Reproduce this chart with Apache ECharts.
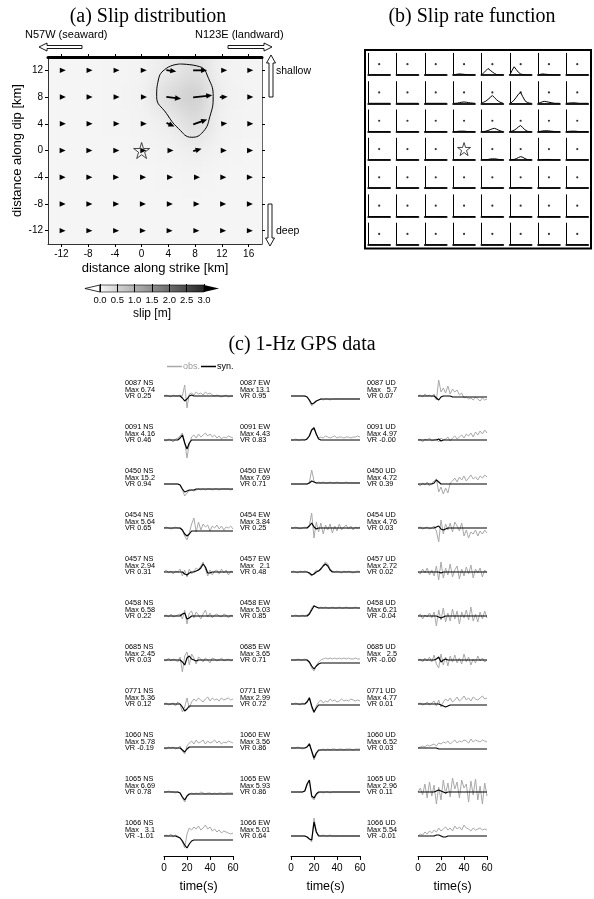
<!DOCTYPE html>
<html><head><meta charset="utf-8">
<script src="https://cdn.jsdelivr.net/npm/echarts@6/dist/echarts.min.js"></script>
<style>
html,body{margin:0;padding:0;background:#fff;}
#wrap{position:relative;width:594px;height:899px;overflow:hidden;}
#slipClip{position:absolute;left:48px;top:57px;width:214px;height:187px;overflow:hidden;}
#slipField{position:absolute;left:-20px;top:-20px;width:254px;height:227px;filter:blur(10px);}
#main{position:absolute;left:0;top:0;width:594px;height:899px;}
</style></head><body>
<div id="wrap"><div id="slipClip"><div id="slipField"></div></div><div id="main"></div></div>
<script>
// ---------------- (a) slip distribution ----------------
const strikeKm = [-12, -8, -4, 0, 4, 8, 12, 16];
const dipKm = [12, 8, 4, 0, -4, -8, -12];
const slipM = [
  [0.02, 0.02, 0.03, 0.05, 0.18, 0.36, 0.06, 0.03],
  [0.02, 0.02, 0.03, 0.06, 0.40, 0.60, 0.08, 0.03],
  [0.02, 0.02, 0.03, 0.05, 0.12, 0.40, 0.06, 0.03],
  [0.01, 0.01, 0.02, 0.03, 0.05, 0.12, 0.04, 0.02],
  [0.01, 0.01, 0.01, 0.02, 0.03, 0.04, 0.02, 0.01],
  [0.01, 0.01, 0.01, 0.01, 0.02, 0.02, 0.01, 0.01],
  [0.01, 0.01, 0.01, 0.01, 0.01, 0.01, 0.01, 0.01]
];
const rakeDeg = [
  [0, 0, 0, 0, -8, 0, 0, 0],
  [0, 0, 0, 0, -8, 6, 2, 0],
  [0, 0, 0, 0, -25, 20, 5, 0],
  [0, 0, 0, 0, 0, 15, 0, 0],
  [0, 0, 0, 0, 0, 0, 0, 0],
  [0, 0, 0, 0, 0, 0, 0, 0],
  [0, 0, 0, 0, 0, 0, 0, 0]
];
const contourStrike = [5.7, 8.7, 10.0, 10.7, 10.2, 9.2, 7.5, 5.5, 3.7, 2.25, 2.5, 3.7, 5.7];
const contourDip    = [12.95, 12.55, 10.8, 8.06, 5.06, 2.82, 1.98, 3.3, 5.57, 8.06, 10.56, 12.3, 12.95];
const hypocenter = [0, 0];
const strikeTicks = [-12, -8, -4, 0, 4, 8, 12, 16];
const dipTicks = [-12, -8, -4, 0, 4, 8, 12];
const colorbarTicks = [0, 0.5, 1, 1.5, 2, 2.5, 3];

// ---------------- (b) slip rate functions ----------------
const rateTime = [0, 2, 4, 6, 8, 10, 12, 14, 16, 18, 20];
const Z = [0, 0, 0, 0, 0, 0, 0, 0, 0, 0, 0];
const rateRows = [
  [Z, Z, Z, [0,0.02,0.04,0.05,0.04,0.03,0.02,0.01,0,0,0], [0,0.1,0.2,0.3,0.22,0.14,0.07,0.02,0,0,0], [0,0.2,0.38,0.25,0.12,0.05,0.02,0,0,0,0], [0,0.03,0.05,0.04,0.03,0.02,0.01,0,0,0,0], Z],
  [Z, Z, Z, [0,0,0.01,0.03,0.05,0.06,0.05,0.03,0.02,0.01,0], [0,0.05,0.1,0.18,0.27,0.36,0.26,0.16,0.08,0.03,0], [0,0.05,0.15,0.28,0.42,0.5,0.3,0.12,0.04,0.01,0], [0,0.03,0.07,0.09,0.07,0.05,0.03,0.01,0,0,0], [0,0.01,0.02,0.02,0.02,0.01,0,0,0,0,0]],
  [Z, Z, Z, [0,0,0.01,0.02,0.02,0.02,0.01,0,0,0,0], [0,0,0.02,0.05,0.09,0.13,0.15,0.11,0.06,0.02,0], [0,0.02,0.06,0.13,0.22,0.28,0.18,0.08,0.02,0,0], [0,0.01,0.03,0.04,0.04,0.03,0.02,0.01,0,0,0], [0,0.01,0.02,0.02,0.02,0.01,0,0,0,0,0]],
  [Z, Z, Z, Z, [0,0,0.01,0.02,0.04,0.05,0.05,0.04,0.02,0.01,0], [0,0,0.02,0.06,0.11,0.15,0.12,0.06,0.02,0,0], [0,0,0.01,0.02,0.02,0.02,0.01,0,0,0,0], Z],
  [Z, Z, Z, Z, Z, [0,0,0.01,0.02,0.03,0.03,0.02,0.01,0,0,0], Z, Z],
  [Z, Z, Z, Z, Z, Z, Z, Z],
  [Z, Z, Z, Z, Z, Z, Z, Z]
];
const hypoCell = [3, 3];

// ---------------- (c) 1-Hz GPS waveforms ----------------
const timeSec = [0,2,4,6,8,10,12,14,16,18,20,22,24,26,28,30,32,34,36,38,40,42,44,46,48,50,52,54,56,58,60];
const timeTicks = [0, 20, 40, 60];
const stationIds = ['0087','0091','0450','0454','0457','0458','0685','0771','1060','1065','1066'];
const compNames = ['NS', 'EW', 'UD'];
const maxNS = ['6.74','4.16','15.2','5.64','2.94','6.58','2.45','5.36','5.78','6.69','3.1'];
const maxEW = ['13.1','4.43','7.69','3.84','2.1','5.03','3.65','2.99','3.56','5.93','5.01'];
const maxUD = ['5.7','4.97','4.72','4.76','2.72','6.21','2.5','4.77','6.52','2.96','5.54'];
const vrNS = ['0.25','0.46','0.94','0.65','0.31','0.22','0.03','0.12','-0.19','0.78','-1.01'];
const vrEW = ['0.95','0.83','0.71','0.25','0.48','0.85','0.71','0.72','0.86','0.86','0.64'];
const vrUD = ['0.07','-0.00','0.39','0.03','0.02','-0.04','-0.00','0.01','0.03','0.11','-0.01'];

const obsNS = [
  [0,1,0,-1,1,0,0,1,0,11,-12,2,3,1,4,2,3,1,4,2,3,1,0,1,0,-1,0,1,-1,0,0],
  [0,-1,1,0,-2,1,2,4,7,-2,-18,-4,3,5,2,6,3,5,7,4,6,3,5,2,4,1,3,2,4,3,2],
  [0,0,0,0,0,0,0,-1,-6,-12,-9,-7,-6,-7,-6,-5,-6,-5,-6,-5,-5,-6,-5,-5,-6,-5,-5,-5,-5,-6,-5],
  [0,1,0,-1,0,1,0,0,-3,-8,-12,-5,4,10,-4,6,-2,4,1,3,-3,2,0,3,-1,2,-2,1,0,2,-1],
  [0,2,-1,1,-2,1,0,3,-4,2,-5,3,-2,1,4,2,6,10,3,-4,2,-3,1,2,-2,3,-1,2,-3,1,0],
  [0,1,-1,2,-1,0,1,2,-3,6,-8,3,5,-2,4,1,-3,2,6,-1,3,-2,1,2,0,-1,2,1,-2,1,0],
  [0,-1,2,-1,1,0,-2,3,-12,4,8,-5,6,2,-4,3,1,-2,2,0,-3,2,1,-1,0,2,-1,0,1,-1,0],
  [0,1,-1,0,1,-2,2,0,-8,-3,6,-4,2,5,3,6,4,2,5,7,3,6,4,5,3,6,4,5,6,4,5],
  [0,-1,1,0,1,-1,0,2,-3,-6,2,5,7,4,8,5,6,8,4,7,5,6,8,5,7,4,6,5,7,6,5],
  [0,0,1,0,0,-1,0,-1,-6,-10,-4,-2,-1,-2,-1,-2,0,-1,-2,-1,-1,-2,-1,-2,-1,-1,-2,-1,-1,-1,-1],
  [0,1,0,2,-1,1,0,-2,-6,-12,2,8,6,9,7,10,6,8,11,7,9,5,7,4,6,3,5,4,3,2,3]
];
const synNS = [
  [0,0,0,0,0,0,0,0,-2,-5,-3,0,1,0,0,0,0,0,0,0,0,0,0,0,0,0,0,0,0,0,0],
  [0,0,0,0,0,0,0,2,5,-3,-9,-3,0,0,0,0,0,0,0,0,0,0,0,0,0,0,0,0,0,0,0],
  [0,0,0,0,0,0,0,-1,-5,-8,-7,-6,-6,-6,-5,-5,-5,-5,-5,-5,-5,-5,-5,-5,-5,-5,-5,-5,-5,-5,-5],
  [0,0,0,0,0,0,0,0,-2,-6,-8,-6,-3,-3,-3,-3,-3,-3,-3,-3,-3,-3,-3,-3,-3,-3,-3,-3,-3,-3,-3],
  [0,0,0,0,0,0,0,0,0,-2,-3,-1,0,0,1,2,4,8,5,-1,-1,0,0,0,0,0,0,0,0,0,0],
  [0,0,0,0,0,0,0,0,2,3,-3,-2,0,0,0,0,0,0,0,0,0,0,0,0,0,0,0,0,0,0,0],
  [0,0,0,0,0,0,0,0,-2,-5,2,4,1,0,-1,0,0,0,0,0,0,0,0,0,0,0,0,0,0,0,0],
  [0,0,0,0,0,0,0,0,-3,-7,-5,-2,-2,-2,-2,-2,-2,-2,-2,-2,-2,-2,-2,-2,-2,-2,-2,-2,-2,-2,-2],
  [0,0,0,0,0,0,0,0,-2,-4,-1,1,1,1,1,1,1,1,1,1,1,1,1,1,1,1,1,1,1,1,1],
  [0,0,0,0,0,0,0,-1,-5,-8,-4,-2,-2,-2,-2,-2,-2,-2,-2,-2,-2,-2,-2,-2,-2,-2,-2,-2,-2,-2,-2],
  [0,0,0,0,0,0,-1,-2,-5,-9,-12,-8,-5,-4,-4,-4,-4,-4,-4,-4,-4,-4,-4,-4,-4,-4,-4,-4,-4,-4,-4]
];
const obsEW = [
  [0,0,0,0,0,0,0,-1,-5,-10,-7,-5,-4,-3,-4,-3,-3,-4,-3,-3,-3,-3,-3,-3,-3,-3,-3,-3,-3,-3,-3],
  [0,0,1,0,0,1,0,2,5,11,13,5,2,3,2,4,3,2,3,4,2,3,3,2,3,3,2,3,3,4,3],
  [0,0,0,0,0,0,0,0,2,14,3,1,2,1,2,1,1,2,1,1,2,1,1,1,2,1,1,1,1,1,1],
  [0,0,1,0,-1,0,1,0,3,15,-10,6,-4,5,-6,3,-2,4,-5,2,-3,4,-2,1,3,-1,2,-2,1,0,1],
  [0,1,0,-1,1,0,1,0,-2,-4,-1,2,1,4,7,10,8,3,1,0,1,0,-1,1,0,1,0,-1,0,1,0],
  [0,0,1,0,0,1,0,1,3,8,11,9,8,9,8,9,8,8,9,8,8,9,8,8,9,8,8,8,9,8,8],
  [0,0,0,1,0,0,1,0,-3,-8,-11,-6,-2,0,1,2,1,2,1,2,1,2,1,2,1,2,1,1,2,1,1],
  [0,0,1,0,-1,1,0,3,7,-4,-9,-2,2,4,1,3,2,5,3,4,2,3,5,3,4,3,5,4,3,4,3],
  [0,0,0,1,0,-1,0,2,5,-4,-12,-6,-3,-2,-1,-2,-1,-2,-1,-1,-2,-1,-1,-2,-1,-1,-1,-2,-1,-1,-1],
  [0,0,0,0,0,0,1,7,11,-6,-8,-3,-1,0,-1,0,0,-1,0,0,0,0,0,0,0,0,0,0,0,0,0],
  [0,0,0,0,0,0,0,-1,-3,-6,18,5,1,0,1,0,0,1,0,0,0,0,0,0,0,0,0,0,0,0,0]
];
const synEW = [
  [0,0,0,0,0,0,0,-1,-4,-8,-7,-5,-4,-3,-3,-3,-3,-3,-3,-3,-3,-3,-3,-3,-3,-3,-3,-3,-3,-3,-3],
  [0,0,0,0,0,0,0,1,4,10,12,6,1,0,0,0,0,0,0,0,0,0,0,0,0,0,0,0,0,0,0],
  [0,0,0,0,0,0,0,0,1,3,2,1,1,1,1,1,1,1,1,1,1,1,1,1,1,1,1,1,1,1,1],
  [0,0,0,0,0,0,0,0,2,5,1,-1,0,0,0,0,0,0,0,0,0,0,0,0,0,0,0,0,0,0,0],
  [0,0,0,0,0,0,0,0,-1,-3,-2,0,1,3,6,8,6,2,0,0,0,0,0,0,0,0,0,0,0,0,0],
  [0,0,0,0,0,0,0,0,2,6,10,9,8,8,8,8,8,8,8,8,8,8,8,8,8,8,8,8,8,8,8],
  [0,0,0,0,0,0,0,0,-2,-6,-9,-6,-4,-3,-3,-3,-3,-3,-3,-3,-3,-3,-3,-3,-3,-3,-3,-3,-3,-3,-3],
  [0,0,0,0,0,0,0,2,6,-2,-8,-4,-1,-1,-1,-1,-1,-1,-1,-1,-1,-1,-1,-1,-1,-1,-1,-1,-1,-1,-1],
  [0,0,0,0,0,0,0,1,4,-3,-10,-5,-2,-2,-2,-2,-2,-2,-2,-2,-2,-2,-2,-2,-2,-2,-2,-2,-2,-2,-2],
  [0,0,0,0,0,0,1,8,12,-4,-6,-2,0,0,0,0,0,0,0,0,0,0,0,0,0,0,0,0,0,0,0],
  [0,0,0,0,0,0,0,-1,-3,-4,14,4,0,0,0,0,0,0,0,0,0,0,0,0,0,0,0,0,0,0,0]
];
const obsUD = [
  [0,1,-1,2,0,1,-1,2,-4,16,4,8,3,10,2,7,4,6,1,3,-2,-1,-3,-2,-4,-1,-3,-5,-2,-4,-3],
  [0,1,-2,1,0,2,-1,0,1,-2,2,0,1,3,-1,2,4,1,3,5,2,6,4,7,3,8,5,9,6,10,7],
  [0,-2,1,-1,2,-2,1,3,5,-8,-3,-10,-4,-9,1,3,6,2,7,4,8,3,6,9,5,7,4,8,6,9,7],
  [0,1,-1,0,1,-1,0,2,-3,-14,8,-6,4,-2,5,-4,6,2,-3,5,-8,-2,-10,-4,-6,-2,-8,-3,-6,-2,-5],
  [0,-2,3,-1,4,-3,2,-4,6,-8,10,-6,4,-3,8,-5,2,6,-7,3,-4,5,-2,7,-6,3,-1,4,-5,2,-1],
  [0,2,-3,1,-1,3,-2,4,-10,6,-4,8,-6,3,-5,7,-3,5,-8,4,-2,6,-4,9,-5,2,-6,4,-3,5,-2],
  [0,1,-2,2,-1,3,-2,5,-4,-8,6,-5,3,-6,4,-2,5,-3,2,-4,6,-2,3,-5,1,-3,4,-1,2,-2,0],
  [0,1,-1,0,2,-1,1,3,-2,4,-3,2,5,3,6,2,4,7,3,5,8,4,6,3,7,5,4,6,8,5,6],
  [0,1,2,1,3,2,3,4,2,5,4,6,5,7,4,6,8,5,7,6,8,7,5,9,6,8,7,6,8,7,6],
  [0,4,-3,8,-6,10,-4,7,-12,5,-8,12,-2,9,-5,14,3,10,-6,12,4,8,-10,11,-3,13,-8,6,-12,9,-4],
  [0,2,1,4,2,5,3,6,4,8,5,7,9,6,8,5,10,7,9,6,11,8,7,5,8,6,7,8,6,7,6]
];
const synUD = [
  [0,0,0,0,0,0,0,0,-2,-4,-1,0,0,0,0,-1,-1,-1,-1,-1,-1,-1,-1,-1,-1,-1,-1,-1,-1,-1,-1],
  [0,0,0,0,0,0,0,0,0,1,-1,0,0,0,0,0,0,0,0,0,0,0,0,0,0,0,0,0,0,0,0],
  [0,0,0,0,0,0,0,1,4,2,0,0,0,0,0,0,0,0,0,0,0,0,0,0,0,0,0,0,0,0,0],
  [0,0,0,0,0,0,0,0,1,2,-1,-2,-1,0,0,0,0,0,0,0,0,0,0,0,0,0,0,0,0,0,0],
  [0,0,0,0,0,0,0,0,0,0,-1,0,0,0,0,0,0,0,0,0,0,0,0,0,0,0,0,0,0,0,0],
  [0,0,0,0,0,0,0,0,0,-1,-2,-1,0,0,0,0,0,0,0,0,0,0,0,0,0,0,0,0,0,0,0],
  [0,0,0,0,0,0,0,0,1,3,-2,0,1,0,0,0,0,0,0,0,0,0,0,0,0,0,0,0,0,0,0],
  [0,0,0,0,0,0,0,0,0,0,-1,-2,-3,-2,-1,-1,-1,-1,-1,-1,-1,-1,-1,-1,-1,-1,-1,-1,-1,-1,-1],
  [0,0,0,0,0,0,0,0,0,-1,-1,-1,-1,-1,-1,-1,-1,-1,-1,-1,-1,-1,-1,-1,-1,-1,-1,-1,-1,-1,-1],
  [0,0,0,0,0,0,0,0,1,2,1,0,-1,0,0,0,0,0,0,0,0,0,0,0,0,0,0,0,0,0,0],
  [0,0,0,0,0,0,0,0,1,1,0,-1,-1,0,0,0,0,0,0,0,0,0,0,0,0,0,0,0,0,0,0]
];

// ---------------- layout and styling ----------------
const SANS = 'Liberation Sans, Arial, Helvetica, sans-serif';
const SERIF = 'Liberation Serif, Times New Roman, serif';
const panelA = { left: 48, top: 57, width: 214, height: 187 };
const strikeRange = [-14, 18], dipRange = [-14, 14];
const slipLow = 246, slipHigh = 38, slipMax = 3;
const obsColor = '#a8a8a8', synColor = '#000';
function slipColor(s) {
  const t = Math.max(0, Math.min(1, s / slipMax));
  const v = Math.round(slipLow + (slipHigh - slipLow) * t);
  return 'rgb(' + v + ',' + v + ',' + v + ')';
}
const STAR = 'path://M50,2 L61,36 L97,36 L68,57 L79,92 L50,71 L21,92 L32,57 L3,36 L39,36 Z';

// ---- blurred slip field underneath panel (a) ----
const cells = [];
dipKm.forEach((y, j) => strikeKm.forEach((x, i) => cells.push([x, y, slipM[j][i]])));
const fieldChart = echarts.init(document.getElementById('slipField'), null, { renderer: 'canvas' });
fieldChart.setOption({
  animation: false,
  backgroundColor: slipColor(0.01),
  grid: { left: 20, top: 20, width: panelA.width, height: panelA.height },
  xAxis: { type: 'value', min: strikeRange[0], max: strikeRange[1], show: false },
  yAxis: { type: 'value', min: dipRange[0], max: dipRange[1], show: false },
  series: [{
    type: 'custom', clip: false, data: cells,
    renderItem: function (params, api) {
      const x = api.value(0), y = api.value(1);
      const padL = x === strikeKm[0] ? 8 : 0, padR = x === strikeKm[strikeKm.length - 1] ? 8 : 0;
      const padT = y === dipKm[0] ? 8 : 0, padB = y === dipKm[dipKm.length - 1] ? 8 : 0;
      const a = api.coord([x - 2 - padL, y + 2 + padT]);
      const b = api.coord([x + 2 + padR, y - 2 - padB]);
      return { type: 'rect', shape: { x: a[0], y: a[1], width: b[0] - a[0], height: b[1] - a[1] },
               style: { fill: slipColor(api.value(2)) } };
    }
  }]
});

// ---- main chart ----
const grids = [], xAxes = [], yAxes = [], series = [], graphics = [];
const hidden = (min, max) => ({ type: 'value', min: min, max: max, show: false });

// panel (a) axes
grids.push({ left: panelA.left, top: panelA.top, width: panelA.width, height: panelA.height });
const tickLabel = { fontSize: 10, color: '#000', fontFamily: SANS };
xAxes.push({ type: 'value', gridIndex: 0, position: 'bottom', min: strikeRange[0], max: strikeRange[1],
  name: 'distance along strike [km]', nameLocation: 'middle', nameGap: 18,
  nameTextStyle: { fontSize: 13, fontFamily: SANS, color: '#000' },
  axisLine: { onZero: false, lineStyle: { color: '#333', width: 1 } },
  axisTick: { show: true, length: 3, lineStyle: { color: '#000' }, customValues: strikeTicks },
  axisLabel: Object.assign({ margin: 5, customValues: strikeTicks }, tickLabel), splitLine: { show: false } });
xAxes.push({ type: 'value', gridIndex: 0, position: 'top', min: strikeRange[0], max: strikeRange[1],
  axisLine: { onZero: false, lineStyle: { color: '#000', width: 3 } },
  axisTick: { show: true, length: 3, lineStyle: { color: '#000' }, customValues: strikeTicks },
  axisLabel: { show: false }, splitLine: { show: false } });
yAxes.push({ type: 'value', gridIndex: 0, position: 'left', min: dipRange[0], max: dipRange[1],
  name: 'distance along dip [km]', nameLocation: 'middle', nameGap: 24,
  nameTextStyle: { fontSize: 13, fontFamily: SANS, color: '#000' },
  axisLine: { show: true, onZero: false, lineStyle: { color: '#333', width: 1 } },
  axisTick: { show: true, length: 3, lineStyle: { color: '#000' }, customValues: dipTicks },
  axisLabel: Object.assign({ margin: 5, customValues: dipTicks }, tickLabel), splitLine: { show: false } });
yAxes.push({ type: 'value', gridIndex: 0, position: 'right', min: dipRange[0], max: dipRange[1],
  axisLine: { show: true, onZero: false, lineStyle: { color: '#666', width: 1 } },
  axisTick: { show: true, length: 3, lineStyle: { color: '#000' }, customValues: dipTicks },
  axisLabel: { show: false }, splitLine: { show: false } });

const arrowData = [];
dipKm.forEach((y, j) => strikeKm.forEach((x, i) => arrowData.push([x, y, slipM[j][i], rakeDeg[j][i]])));
series.push({
  type: 'custom', xAxisIndex: 0, yAxisIndex: 0, data: arrowData, z: 3, silent: true,
  renderItem: function (params, api) {
    const p = api.coord([api.value(0), api.value(1)]);
    const s = api.value(2), r = api.value(3) * Math.PI / 180;
    const dx = Math.cos(r), dy = -Math.sin(r);
    const len = 6 + s * 22, hl = 6, hw = 2.7;
    const x0 = p[0] - 2 * dx, y0 = p[1] - 2 * dy;
    const tx = x0 + len * dx, ty = y0 + len * dy;
    const bx = tx - hl * dx, by = ty - hl * dy;
    const kids = [{ type: 'polygon', shape: { points: [[tx, ty], [bx - hw * dy, by + hw * dx], [bx + hw * dy, by - hw * dx]] },
                    style: { fill: '#000' } }];
    if (len > hl + 1.5) kids.push({ type: 'line', shape: { x1: x0, y1: y0, x2: bx + dx, y2: by + dy },
                                    style: { stroke: '#000', lineWidth: 1.8 } });
    return { type: 'group', children: kids };
  }
});
series.push({ type: 'line', xAxisIndex: 0, yAxisIndex: 0, smooth: 0.5, symbol: 'none', silent: true, z: 4,
  data: contourStrike.map((x, k) => [x, contourDip[k]]), lineStyle: { color: '#000', width: 1 } });
series.push({ type: 'scatter', xAxisIndex: 0, yAxisIndex: 0, data: [hypocenter], symbol: STAR, symbolSize: 16,
  silent: true, z: 5, itemStyle: { color: 'rgba(0,0,0,0)', borderColor: '#000', borderWidth: 0.9 } });

// colorbar (its own grid and axes)
const cbGrid = grids.length, cbX = xAxes.length, cbY = yAxes.length;
grids.push({ left: 100, top: 285, width: 104, height: 7 });
xAxes.push({ type: 'value', gridIndex: cbGrid, min: 0, max: slipMax, z: 10,
  name: 'slip [m]', nameLocation: 'middle', nameGap: 16, nameTextStyle: { fontSize: 12, fontFamily: SANS, color: '#000' },
  axisLine: { show: false, onZero: false }, splitLine: { show: false },
  axisTick: { show: true, inside: true, length: 8, lineStyle: { color: '#000', width: 1 }, customValues: colorbarTicks },
  axisLabel: { margin: 3, fontSize: 9.5, color: '#000', fontFamily: SANS, customValues: colorbarTicks,
    formatter: v => v.toFixed(1) } });
yAxes.push(Object.assign(hidden(0, 1), { gridIndex: cbGrid }));
series.push({ type: 'custom', xAxisIndex: cbX, yAxisIndex: cbY, data: [[0, 0.5, slipMax]], encode: { x: 0, y: 1 },
  silent: true, clip: false, z: 2,
  renderItem: function (params, api) {
    const lo = api.value(0), hi = api.value(2);
    const a = api.coord([lo, 1]), b = api.coord([hi, 0]);
    const ext = (b[0] - a[0]) * 0.145, midY = (a[1] + b[1]) / 2;
    return { type: 'group', children: [
      { type: 'polygon', shape: { points: [[a[0] - ext, midY], [a[0], a[1]], [a[0], b[1]]] }, style: { fill: '#fff', stroke: '#000', lineWidth: 0.8 } },
      { type: 'rect', shape: { x: a[0], y: a[1], width: b[0] - a[0], height: b[1] - a[1] },
        style: { fill: { type: 'linear', x: 0, y: 0, x2: 1, y2: 0, colorStops: [{ offset: 0, color: slipColor(lo) }, { offset: 1, color: slipColor(hi) }] },
                 stroke: '#000', lineWidth: 0.6 } },
      { type: 'polygon', shape: { points: [[b[0] + ext, midY], [b[0], a[1]], [b[0], b[1]]] }, style: { fill: '#000' } }
    ] };
  } });

// panel (b): slip-rate functions
const miniLeft = 368.3, miniTop = 53.3, miniStep = 28.3, miniW = 21.7, miniH = 21.7;
rateRows.forEach((row, j) => row.forEach((fn, i) => {
  const gi = grids.length;
  grids.push({ left: miniLeft + i * miniStep, top: miniTop + j * miniStep, width: miniW, height: miniH });
  const xi = xAxes.length, yi = yAxes.length;
  xAxes.push({ type: 'value', gridIndex: gi, min: 0, max: 20, axisLine: { show: true, onZero: false, lineStyle: { color: '#222', width: 2 } },
    axisTick: { show: false }, axisLabel: { show: false }, splitLine: { show: false } });
  yAxes.push({ type: 'value', gridIndex: gi, min: 0, max: 1, axisLine: { show: true, onZero: false, lineStyle: { color: '#000', width: 1 } },
    axisTick: { show: false }, axisLabel: { show: false }, splitLine: { show: false } });
  series.push({ type: 'line', xAxisIndex: xi, yAxisIndex: yi, symbol: 'none', silent: true,
    data: rateTime.map((t, k) => [t, fn[k]]), lineStyle: { color: '#000', width: 1 } });
  const isHypo = j === hypoCell[0] && i === hypoCell[1];
  series.push({ type: 'scatter', xAxisIndex: xi, yAxisIndex: yi, silent: true, data: [[10, 0.5]],
    symbol: isHypo ? STAR : 'circle', symbolSize: isHypo ? 13 : 2.2,
    itemStyle: isHypo ? { color: 'rgba(0,0,0,0)', borderColor: '#000', borderWidth: 0.9 } : { color: '#000' } });
}));

// panel (c): waveform grids
const traceLeft = [164, 291, 418], traceW = 69, labelLeft = [125, 240, 367], labelW = 30;
const baseline0 = 396, rowStep = 44, halfH = 20;
const obsSets = [obsNS, obsEW, obsUD], synSets = [synNS, synEW, synUD];
const maxSets = [maxNS, maxEW, maxUD], vrSets = [vrNS, vrEW, vrUD];
const labelFont = '7.3px ' + SANS;
for (let c = 0; c < 3; c++) {
  for (let r = 0; r < stationIds.length; r++) {
    const base = baseline0 + r * rowStep;
    const gi = grids.length;
    grids.push({ left: traceLeft[c], top: base - halfH, width: traceW, height: 2 * halfH });
    const last = r === stationIds.length - 1;
    const xi = xAxes.length, yi = yAxes.length;
    xAxes.push(last ? {
      type: 'value', gridIndex: gi, min: 0, max: 60, position: 'bottom',
      name: 'time(s)', nameLocation: 'middle', nameGap: 24, nameTextStyle: { fontSize: 12.5, fontFamily: SANS, color: '#000' },
      axisLine: { show: true, onZero: false, lineStyle: { color: '#000', width: 1 } },
      axisTick: { show: true, length: 4, lineStyle: { color: '#000' }, customValues: timeTicks },
      axisLabel: { margin: 7, fontSize: 10, color: '#000', fontFamily: SANS, customValues: timeTicks },
      splitLine: { show: false }
    } : Object.assign(hidden(0, 60), { gridIndex: gi }));
    yAxes.push(Object.assign(hidden(-halfH, halfH), { gridIndex: gi }));
    series.push({ type: 'line', name: 'obs.', xAxisIndex: xi, yAxisIndex: yi, symbol: 'none', clip: false, silent: true, z: 2,
      data: timeSec.map((t, k) => [t, obsSets[c][r][k]]), itemStyle: { color: obsColor }, lineStyle: { color: obsColor, width: 1 } });
    series.push({ type: 'line', name: 'syn.', xAxisIndex: xi, yAxisIndex: yi, symbol: 'none', clip: false, silent: true, z: 3,
      data: timeSec.map((t, k) => [t, synSets[c][r][k]]), itemStyle: { color: synColor }, lineStyle: { color: synColor, width: 1.2 } });
    const ty = base - 13, lx = labelLeft[c];
    const txt = (s, x, y, align) => graphics.push({ type: 'text', x: x, y: y, silent: true,
      style: { text: s, font: labelFont, fill: '#000', textAlign: align, textVerticalAlign: 'middle' } });
    txt(stationIds[r] + ' ' + compNames[c], lx, ty, 'left');
    txt('Max', lx, ty + 6.5, 'left');
    txt(maxSets[c][r], lx + labelW, ty + 6.5, 'right');
    txt('VR ' + vrSets[c][r], lx, ty + 13, 'left');
  }
}

// titles and annotations
const gtext = (s, x, y, font, align, fill) => graphics.push({ type: 'text', x: x, y: y, silent: true,
  style: { text: s, font: font, fill: fill || '#000', textAlign: align || 'center', textVerticalAlign: 'middle' } });
gtext('(a) Slip distribution', 148, 17, '20px ' + SERIF);
gtext('(b) Slip rate function', 472, 17, '20px ' + SERIF);
gtext('(c) 1-Hz GPS data', 302, 345, '20px ' + SERIF);
gtext('N57W (seaward)', 25, 35, '11px ' + SANS, 'left');
gtext('N123E (landward)', 195, 35, '11px ' + SANS, 'left');
gtext('shallow', 276, 71, '10.5px ' + SANS, 'left');
gtext('deep', 276, 231, '10.5px ' + SANS, 'left');
const outline = { fill: '#fff', stroke: '#000', lineWidth: 0.9 };
graphics.push({ type: 'polygon', silent: true, shape: { points: [[39,47],[47,43],[47,45.5],[82,45.5],[82,48.5],[47,48.5],[47,51]] }, style: outline });
graphics.push({ type: 'polygon', silent: true, shape: { points: [[272,47],[264,43],[264,45.5],[228,45.5],[228,48.5],[264,48.5],[264,51]] }, style: outline });
graphics.push({ type: 'polygon', silent: true, shape: { points: [[271,55],[266.5,63],[269,63],[269,97],[273,97],[273,63],[275.5,63]] }, style: outline });
graphics.push({ type: 'polygon', silent: true, shape: { points: [[270,246],[265.5,238],[268,238],[268,204],[272,204],[272,238],[274.5,238]] }, style: outline });
graphics.push({ type: 'rect', silent: true, shape: { x: 365, y: 50, width: 226, height: 198.5 }, style: { fill: 'none', stroke: '#000', lineWidth: 2 } });

const chart = echarts.init(document.getElementById('main'), null, { renderer: 'canvas' });
chart.setOption({
  animation: false,
  backgroundColor: 'transparent',
  legend: {
    data: [
      { name: 'obs.', icon: 'rect', itemStyle: { color: obsColor }, textStyle: { color: '#9a9a9a' } },
      { name: 'syn.', icon: 'rect', itemStyle: { color: synColor }, textStyle: { color: '#000' } }
    ],
    left: 162, top: 357, itemWidth: 15, itemHeight: 1.5, itemGap: 1, selectedMode: false,
    textStyle: { fontSize: 9, fontFamily: SANS, padding: [0, 0, 0, -4] }
  },
  grid: grids, xAxis: xAxes, yAxis: yAxes, series: series, graphic: { elements: graphics }
});
</script>
</body></html>
